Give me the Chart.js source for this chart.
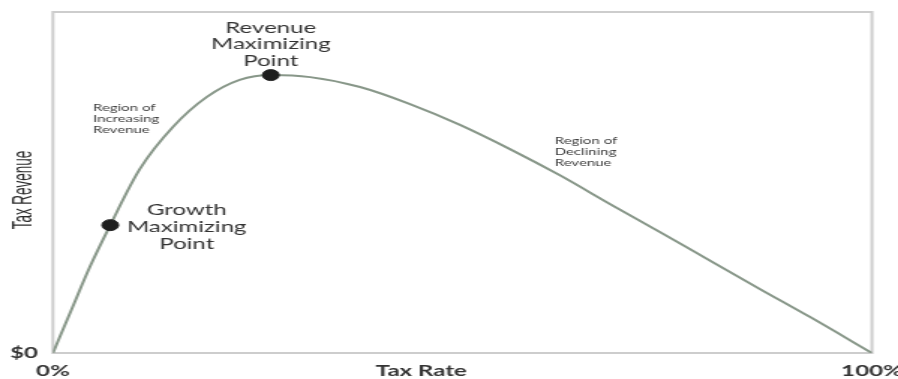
<!DOCTYPE html>
<html>
<head>
<meta charset="utf-8">
<script src="https://cdn.jsdelivr.net/npm/chart.js@4"></script>
<style>
  html, body { margin: 0; padding: 0; background: #fff; overflow: hidden; }
  /* the source picture is stretched sideways, so the chart is drawn narrow and widened */
  #wrap { width: 599px; height: 379px; transform: scaleX(1.4992); transform-origin: 0 0; }
</style>
</head>
<body>
<div id="wrap"><canvas id="lafferChart"></canvas></div>
<script>
// curve (tax rate in %, revenue on a 0-100 scale)
var taxRate = [0, 2.3, 4.5, 7.0, 10.6, 14.7, 18.8, 22.8, 26.7, 31.4, 37.5, 43.6, 49.7, 55.8, 61.9, 68.0, 74.1, 80.2, 86.3, 92.4, 100];
var revenue = [0, 12.9, 25.2, 37.5, 53.9, 66.4, 75.1, 80.1, 81.5, 80.9, 78.0, 73.0, 66.9, 59.8, 52.1, 43.7, 35.5, 27.1, 18.8, 10.6, 0];

// marked points
var pointNames = ['Growth Maximizing Point', 'Revenue Maximizing Point'];
var pointRate = [7.0, 26.6];
var pointRevenue = [37.5, 81.5];

var xTicks = [0, 100];
var yTicks = [0];

var curveData = taxRate.map(function (r, i) { return { x: r, y: revenue[i] }; });
var pointData = pointRate.map(function (r, i) { return { x: r, y: pointRevenue[i] }; });

var labelFont = 'Lato, "Open Sans", sans-serif';

var notesPlugin = {
  id: 'notes',
  beforeDatasetsDraw: function (chart) {
    var a = chart.chartArea, c = chart.ctx;
    c.save();
    c.strokeStyle = '#cdcdcd';
    c.lineWidth = 2;
    c.strokeRect(a.left, a.top, a.right - a.left, a.bottom - a.top);
    c.restore();
  },
  afterDraw: function (chart) {
    var c = chart.ctx;
    var xs = chart.scales.x, ys = chart.scales.y;
    c.save();
    c.fillStyle = '#333';
    c.textBaseline = 'middle';

    // big labels next to the marked points
    c.font = '16px ' + labelFont;
    c.textAlign = 'center';
    var g = pointNames[0].split(' ');
    var gx = xs.getPixelForValue(pointRate[0]) + 51;
    var gy = ys.getPixelForValue(pointRevenue[0]);
    c.fillText(g[0], gx, gy - 15);
    c.fillText(g[1], gx, gy + 2);
    c.fillText(g[2], gx, gy + 19);

    var r = pointNames[1].split(' ');
    var rx = xs.getPixelForValue(pointRate[1]);
    var ry = ys.getPixelForValue(pointRevenue[1]);
    c.fillText(r[0], rx, ry - 47);
    c.fillText(r[1], rx, ry - 31);
    c.fillText(r[2], rx, ry - 14);

    // small region notes
    c.font = '10px ' + labelFont;
    c.fillStyle = '#3c3c3c';
    c.textAlign = 'left';
    ['Region of', 'Increasing', 'Revenue'].forEach(function (t, i) { c.fillText(t, 62, 108 + i * 11); });
    ['Region of', 'Declining', 'Revenue'].forEach(function (t, i) { c.fillText(t, 370, 141 + i * 11); });

    // axis titles
    c.fillStyle = '#333';
    c.font = 'bold 16px ' + labelFont;
    c.textAlign = 'center';
    c.fillText('Tax Rate', 281, 371);

    c.save();
    c.translate(15.5, 190);
    c.rotate(-Math.PI / 2);
    c.scale(0.71, 1);
    c.font = '19px "Liberation Sans", Arial, sans-serif';
    c.fillStyle = '#2a2a2a';
    c.fillText('Tax Revenue', 0, 0);
    c.restore();

    c.restore();
  }
};

var ctx = document.getElementById('lafferChart');
var lafferChart = new Chart(ctx, {
  type: 'line',
  data: {
    datasets: [{
      label: 'Tax Revenue',
      data: curveData,
      borderColor: '#889789',
      borderWidth: 2,
      pointRadius: 0,
      cubicInterpolationMode: 'monotone',
      fill: false,
      order: 2
    }, {
      label: 'Points',
      data: pointData,
      showLine: false,
      pointRadius: 5.5,
      pointBackgroundColor: '#1e1e1e',
      pointBorderColor: '#1e1e1e',
      order: 1
    }]
  },
  options: {
    responsive: true,
    maintainAspectRatio: false,
    animation: false,
    layout: { padding: { top: 12, left: 0, right: 0, bottom: 0 } },
    plugins: {
      legend: { display: false },
      tooltip: { enabled: false }
    },
    scales: {
      x: {
        type: 'linear',
        min: 0,
        max: 100,
        grid: { display: false, drawTicks: false },
        border: { display: false },
        afterBuildTicks: function (s) { s.ticks = xTicks.map(function (v) { return { value: v }; }); },
        afterFit: function (s) { s.height = 26; s.paddingRight = 17.4; s.paddingLeft = 0; },
        ticks: {
          padding: 8,
          color: '#333',
          font: { family: labelFont, size: 16, weight: 'bold' },
          callback: function (v) { return v + '%'; }
        }
      },
      y: {
        min: 0,
        max: 100,
        grid: { display: false, drawTicks: false },
        border: { display: false },
        afterBuildTicks: function (s) { s.ticks = yTicks.map(function (v) { return { value: v }; }); },
        afterFit: function (s) { s.width = 35.3; s.paddingTop = 0; s.paddingBottom = 0; },
        ticks: {
          padding: 10,
          color: '#333',
          font: { family: labelFont, size: 16, weight: 'bold' },
          callback: function (v) { return '$' + v; }
        }
      }
    }
  },
  plugins: [notesPlugin]
});
</script>
</body>
</html>
